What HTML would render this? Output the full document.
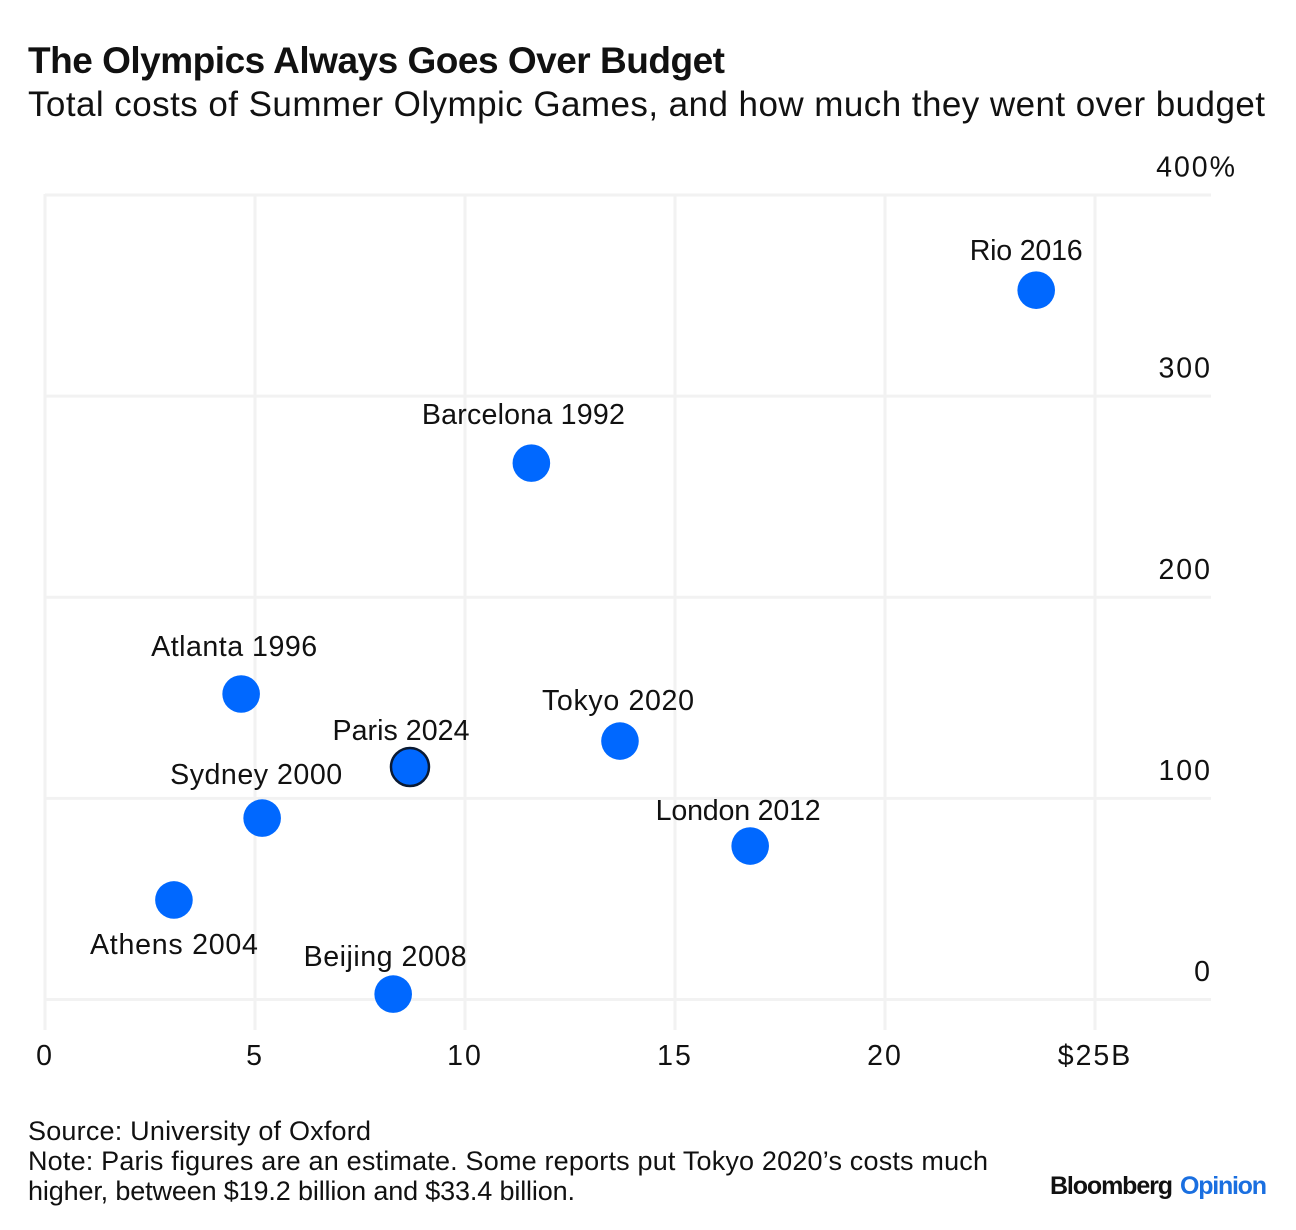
<!DOCTYPE html>
<html lang="en">
<head>
<meta charset="utf-8">
<title>The Olympics Always Goes Over Budget</title>
<style>
html,body{margin:0;padding:0;background:#fff;}
svg{display:block;}
text{font-family:"Liberation Sans",sans-serif;fill:#111;}
.lbl{font-size:28.6px;}
.tick{font-size:28.5px;letter-spacing:2px;}
.foot{font-size:27px;}
</style>
</head>
<body>
<svg id="chart" width="1296" height="1230" viewBox="0 0 1296 1230" xmlns="http://www.w3.org/2000/svg">
<rect x="0" y="0" width="1296" height="1230" fill="#fff"/>
<text x="28" y="73" font-size="37" font-weight="700" textLength="697" lengthAdjust="spacing">The Olympics Always Goes Over Budget</text>
<text x="28" y="116" font-size="35" textLength="1237" lengthAdjust="spacing">Total costs of Summer Olympic Games, and how much they went over budget</text>
<g id="grid"></g>
<g id="xticks"></g>
<g id="yticks"></g>
<g id="points"></g>
<g id="labels"></g>
<text class="foot" x="28" y="1140" textLength="343" lengthAdjust="spacing">Source: University of Oxford</text>
<text class="foot" x="28" y="1170" textLength="960" lengthAdjust="spacing">Note: Paris figures are an estimate. Some reports put Tokyo 2020’s costs much</text>
<text class="foot" x="28" y="1200" textLength="547" lengthAdjust="spacing">higher, between $19.2 billion and $33.4 billion.</text>
<text x="1050" y="1194" font-size="25" font-weight="700" textLength="123" lengthAdjust="spacing">Bloomberg</text>
<text x="1180" y="1194" font-size="25" font-weight="700" textLength="87" lengthAdjust="spacing" style="fill:#1a6fe0">Opinion</text>
</svg>
<script>
const cities = ["Rio 2016","Barcelona 1992","Atlanta 1996","Tokyo 2020","Paris 2024","Sydney 2000","London 2012","Athens 2004","Beijing 2008"];
const totalCost = [23.6,11.58,4.67,13.69,8.69,5.17,16.79,3.07,8.29];
const overBudget = [352.7,266.7,151.9,128.5,115.6,90.2,76.3,49.5,2.7];
const xTickValues = [0,5,10,15,20,25];
const xTickLabels = ["0","5","10","15","20","$25B"];
const yTickValues = [0,100,200,300,400];
const yTickLabels = ["0","100","200","300","400%"];

function xScale(v){ return 45 + v * 42; }
function yScale(v){ return 999.5 - v * 2.0112; }

const NS = "http://www.w3.org/2000/svg";
function make(tag, attrs, parent, text){
  const el = document.createElementNS(NS, tag);
  for (const k in attrs) el.setAttribute(k, attrs[k]);
  if (text !== undefined) el.textContent = text;
  parent.appendChild(el);
  return el;
}

const gridG = document.getElementById("grid");
const xG = document.getElementById("xticks");
const yG = document.getElementById("yticks");
const pointsG = document.getElementById("points");
const labelsG = document.getElementById("labels");
const GRID = "#f2f2f2";

yTickValues.forEach(function(v, i){
  const line = make("line", {x1:45, x2:1211, y1:yScale(v), y2:yScale(v), stroke:GRID, "stroke-width":3}, gridG);
  
  
  const t = make("text", {class:"tick", x: 1212, y: yScale(v) - 18.5, "text-anchor":"end"}, yG, yTickLabels[i]);
  if (v === 400) t.setAttribute("x", 1237);
  
  
});

xTickValues.forEach(function(v, i){
  const line = make("line", {x1:xScale(v), x2:xScale(v), y1:194, y2:1030, stroke:GRID, "stroke-width":3}, gridG);
  
  
  const t = make("text", {class:"tick", x: xScale(v), y: 1065, "text-anchor":"middle"}, xG, xTickLabels[i]);
  
  
});

function labelLayout(name){
  const o = {
    "Rio 2016":[-10,-30,113], "Barcelona 1992":[-8,-39,203], "Atlanta 1996":[-7,-38,166],
    "Tokyo 2020":[-2,-31,152], "Paris 2024":[-9,-27,137], "Sydney 2000":[-6,-34,172],
    "London 2012":[-12,-26,165], "Athens 2004":[0,54,168], "Beijing 2008":[-8,-28,163]
  };
  return o[name];
}

cities.forEach(function(name, i){
  const cx = xScale(totalCost[i]);
  const cy = yScale(overBudget[i]);
  const isParis = name === "Paris 2024";
  const c = make("circle", {cx:cx, cy:cy, r: isParis ? 19 : 18.8, fill:"#0068ff", stroke: isParis ? "#0a1a33" : "none", "stroke-width": isParis ? 2.5 : 0}, pointsG);
  
  
  const off = labelLayout(name);
  const t = make("text", {class:"lbl", x: cx + off[0], y: cy + off[1], "text-anchor":"middle", textLength: off[2], lengthAdjust:"spacing"}, labelsG, name);
  
  
});
</script>
</body>
</html>
